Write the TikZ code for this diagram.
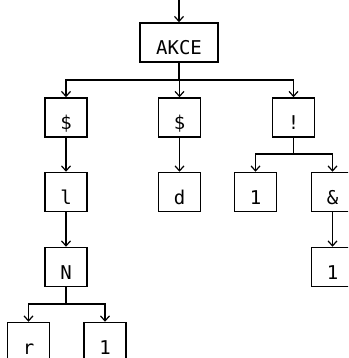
\documentclass[tikz,border=0pt]{standalone}
\usepackage{fontspec}
\setmainfont{DejaVu Sans Mono}
\usetikzlibrary{arrows.meta}
\begin{document}
\begin{tikzpicture}[x=1pt,y=-1pt,
  box/.style={draw,line width=1.5pt,inner xsep=0pt,inner ysep=0pt,
    minimum width=42pt,minimum height=39pt,text height=25pt,text depth=0pt,
    font=\fontsize{19}{20}\selectfont},
  wide/.style={box,minimum width=78pt},
  link/.style={line width=1.5pt,-{Straight Barb[length=5pt,width=9pt,line width=1.2pt]}}]
\useasboundingbox (0,0) rectangle (348,358);
\begin{scope}
\clip (0,0) rectangle (348,358);
% nodes
\node[wide] (akce) at (179,42.5) {AKCE};
\node[box] (s1) at (66,117.5) {\$};
\node[box] (s2) at (179.5,117.5) {\$};
\node[box] (ex) at (293.5,117.5) {!};
\node[box] (l) at (66,192) {l};
\node[box] (d) at (179.5,192) {d};
\node[box] (one1) at (255.5,192) {1};
\node[box] (amp) at (332.5,192) {\&};
\node[box] (n) at (66,267) {N};
\node[box] (one2) at (332.5,267) {1};
\node[box] (r) at (28.5,342) {r};
\node[box] (one3) at (105,342) {1};
% bus levels
\coordinate (in) at (179,0);
\coordinate (bus0) at (0,80);
\coordinate (bus1) at (0,154);
\coordinate (bus2) at (0,304);
% connectors
\draw[link] (in) -- (akce.north);
\foreach \c in {s1,s2,ex}
  \draw[link] (akce.south) -- (akce.south |- bus0) -| (\c.north);
\draw[link] (s1.south) -- (l.north);
\draw[link] (s2.south) -- (d.north);
\foreach \c in {one1,amp}
  \draw[link] (ex.south) -- (ex.south |- bus1) -| (\c.north);
\draw[link] (l.south) -- (n.north);
\draw[link] (amp.south) -- (one2.north);
\foreach \c in {r,one3}
  \draw[link] (n.south) -- (n.south |- bus2) -| (\c.north);
\end{scope}
\end{tikzpicture}
\end{document}
